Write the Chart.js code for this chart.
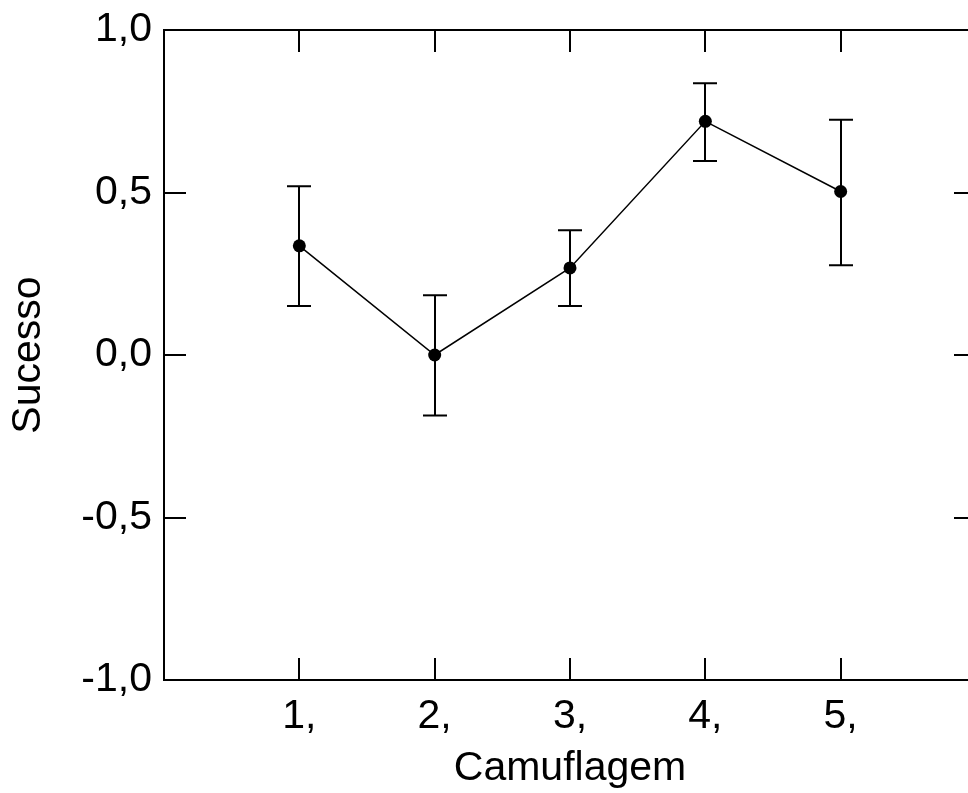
<!DOCTYPE html>
<html>
<head>
<meta charset="utf-8">
<script src="https://cdn.jsdelivr.net/npm/chart.js@4/dist/chart.umd.min.js"></script>
<style>
  html, body { margin: 0; padding: 0; background: #fff; overflow: hidden; }
  #wrap { width: 968px; height: 793px; overflow: hidden; position: relative; }
  canvas { display: block; }
</style>
</head>
<body>
<div id="wrap"><canvas id="c" width="1000" height="793"></canvas></div>
<script>
const categories = [1, 2, 3, 4, 5];
const sucesso = [0.336, 0.0, 0.268, 0.719, 0.503];
const errUpper = [0.519, 0.184, 0.384, 0.836, 0.724];
const errLower = [0.151, -0.186, 0.151, 0.597, 0.276];
const yTickValues = [-1.0, -0.5, 0.0, 0.5, 1.0];
const xTickValues = [1, 2, 3, 4, 5];

const FONT = { family: "'Liberation Sans', Arial, sans-serif", size: 41 };

const framePlugin = {
  id: 'frame',
  afterDatasetsDraw(chart) {
    const { ctx, chartArea: a, scales } = chart;
    const xs = scales.x, ys = scales.y;
    ctx.save();
    ctx.strokeStyle = '#000';
    ctx.lineWidth = 2;
    ctx.strokeRect(a.left, a.top, a.right - a.left, a.bottom - a.top);
    const TL = 22;
    ctx.beginPath();
    xTickValues.forEach(v => {
      const px = Math.round(xs.getPixelForValue(v));
      ctx.moveTo(px, a.bottom); ctx.lineTo(px, a.bottom - TL);
      ctx.moveTo(px, a.top); ctx.lineTo(px, a.top + TL);
    });
    yTickValues.forEach(v => {
      const py = Math.round(ys.getPixelForValue(v));
      ctx.moveTo(a.left, py); ctx.lineTo(a.left + TL, py);
      ctx.moveTo(a.right, py); ctx.lineTo(a.right - TL, py);
    });
    ctx.stroke();
    ctx.restore();
  }
};

const errorBarPlugin = {
  id: 'errbars',
  beforeDatasetsDraw(chart) {
    const { ctx, scales } = chart;
    const xs = scales.x, ys = scales.y;
    ctx.save();
    ctx.strokeStyle = '#000';
    ctx.lineWidth = 2;
    ctx.beginPath();
    categories.forEach((c, i) => {
      const px = Math.round(xs.getPixelForValue(c));
      const pHi = ys.getPixelForValue(errUpper[i]);
      const pLo = ys.getPixelForValue(errLower[i]);
      ctx.moveTo(px, pHi); ctx.lineTo(px, pLo);
      ctx.moveTo(px - 12, pHi); ctx.lineTo(px + 12, pHi);
      ctx.moveTo(px - 12, pLo); ctx.lineTo(px + 12, pLo);
    });
    ctx.stroke();
    ctx.restore();
  }
};

new Chart(document.getElementById('c'), {
  type: 'line',
  data: {
    datasets: [{
      data: categories.map((c, i) => ({ x: c, y: sucesso[i] })),
      borderColor: '#000',
      borderWidth: 1.5,
      backgroundColor: '#000',
      pointBackgroundColor: '#000',
      pointBorderColor: '#000',
      pointRadius: 6.5,
      pointBorderWidth: 0,
      tension: 0,
      fill: false
    }]
  },
  options: {
    responsive: false,
    devicePixelRatio: 1,
    animation: false,
    layout: { padding: { top: 30, right: 24, left: 0, bottom: 0 } },
    plugins: { legend: { display: false }, tooltip: { enabled: false } },
    scales: {
      x: {
        type: 'linear',
        min: 0, max: 6,
        afterBuildTicks: s => { s.ticks = xTickValues.map(v => ({ value: v })); },
        afterFit: s => { s.height = 113; s.paddingLeft = 0; s.paddingRight = 0; },
        border: { display: false },
        grid: { display: false, drawTicks: false },
        ticks: {
          padding: 12,
          color: '#000',
          font: FONT,
          maxRotation: 0,
          autoSkip: false,
          callback: v => v + ','
        },
        title: {
          display: true,
          text: 'Camuflagem',
          color: '#000',
          font: FONT,
          padding: { top: 0, bottom: 0 }
        }
      },
      y: {
        type: 'linear',
        min: -1, max: 1,
        afterBuildTicks: s => { s.ticks = yTickValues.map(v => ({ value: v })); },
        afterFit: s => { s.width = 164; s.paddingTop = 0; s.paddingBottom = 0; },
        border: { display: false },
        grid: { display: false, drawTicks: false },
        ticks: {
          padding: 12,
          color: '#000',
          font: FONT,
          autoSkip: false,
          callback: v => v.toFixed(1).replace('.', ',')
        },
        title: {
          display: true,
          text: 'Sucesso',
          color: '#000',
          font: FONT,
          padding: { top: 4, bottom: 0 }
        }
      }
    }
  },
  plugins: [errorBarPlugin, framePlugin]
});
</script>
</body>
</html>
